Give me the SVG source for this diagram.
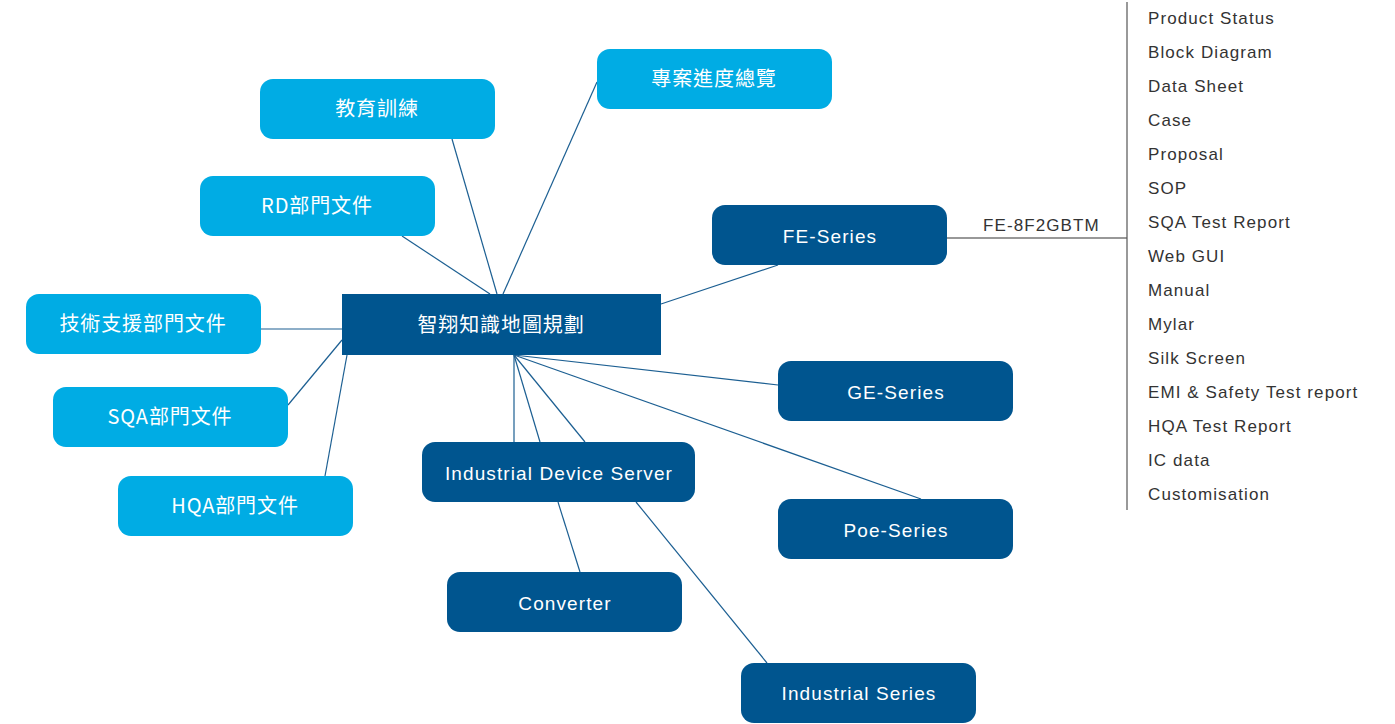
<svg xmlns="http://www.w3.org/2000/svg" width="1395" height="724" viewBox="0 0 1395 724">
<style>
.lb{fill:#00ace4}
.db{fill:#00558f}
.t{font-family:"Liberation Sans","Noto Sans CJK TC",sans-serif;font-size:19px;letter-spacing:1.1px;fill:#fff;text-anchor:middle}
.c{font-family:"Noto Sans CJK TC","Liberation Sans",sans-serif;font-size:20px;letter-spacing:0.9px;fill:#fff;text-anchor:middle}
.l{font-family:"Liberation Sans",sans-serif;font-size:17px;letter-spacing:1.1px;fill:#333}
.cn{stroke:#1c5f92;stroke-width:1.2;fill:none}
</style>
<rect width="1395" height="724" fill="#fff"/>
<g id="connectors" class="cn">
<line x1="452" y1="139" x2="497" y2="294"/>
<line x1="597" y1="82" x2="503" y2="294"/>
<line x1="402" y1="236" x2="490" y2="294"/>
<line x1="261" y1="329" x2="342" y2="329"/>
<line x1="288" y1="405" x2="342" y2="340"/>
<line x1="325" y1="476" x2="347" y2="355"/>
<line x1="661" y1="304" x2="778" y2="265"/>
<line x1="514" y1="355" x2="514" y2="442"/>
<line x1="514" y1="355" x2="540" y2="442"/>
<line x1="514" y1="355" x2="585" y2="442"/>
<line x1="514" y1="355" x2="778" y2="385"/>
<line x1="514" y1="355" x2="921" y2="499"/>
<line x1="558" y1="502" x2="580" y2="572"/>
<line x1="636" y1="502" x2="767" y2="663"/>
<line x1="947" y1="238" x2="1127" y2="238" stroke="#333"/>
<line x1="1127" y1="2" x2="1127" y2="510" stroke="#555"/>
</g>
<g id="center"><rect x="342" y="294" width="319" height="61" class="db"/><text x="501" y="332" class="c">智翔知識地圖規劃</text></g>
<g id="edu"><rect x="260" y="79" width="235" height="60" rx="13" class="lb"/><text x="377" y="116" class="c">教育訓練</text></g>
<g id="proj"><rect x="597" y="49" width="235" height="60" rx="13" class="lb"/><text x="714" y="86" class="c">專案進度總覽</text></g>
<g id="rd"><rect x="200" y="176" width="235" height="60" rx="13" class="lb"/><text x="317" y="213" class="c">RD部門文件</text></g>
<g id="tech"><rect x="26" y="294" width="235" height="60" rx="13" class="lb"/><text x="143" y="331" class="c">技術支援部門文件</text></g>
<g id="sqa"><rect x="53" y="387" width="235" height="60" rx="13" class="lb"/><text x="170" y="424" class="c">SQA部門文件</text></g>
<g id="hqa"><rect x="118" y="476" width="235" height="60" rx="13" class="lb"/><text x="235" y="513" class="c">HQA部門文件</text></g>
<g id="fe"><rect x="712" y="205" width="235" height="60" rx="13" class="db"/><text x="830" y="243" class="t">FE-Series</text></g>
<g id="ge"><rect x="778" y="361" width="235" height="60" rx="13" class="db"/><text x="896" y="399" class="t">GE-Series</text></g>
<g id="poe"><rect x="778" y="499" width="235" height="60" rx="13" class="db"/><text x="896" y="537" class="t">Poe-Series</text></g>
<g id="ids"><rect x="422" y="442" width="273" height="60" rx="13" class="db"/><text x="559" y="480" class="t">Industrial Device Server</text></g>
<g id="conv"><rect x="447" y="572" width="235" height="60" rx="13" class="db"/><text x="565" y="610" class="t">Converter</text></g>
<g id="ind"><rect x="741" y="663" width="235" height="60" rx="13" class="db"/><text x="859" y="700" class="t">Industrial Series</text></g>
<g id="fe-model"><text x="983" y="231" class="l">FE-8F2GBTM</text></g>
<g id="docs" class="l">
<text x="1148" y="24">Product Status</text>
<text x="1148" y="58">Block Diagram</text>
<text x="1148" y="92">Data Sheet</text>
<text x="1148" y="126">Case</text>
<text x="1148" y="160">Proposal</text>
<text x="1148" y="194">SOP</text>
<text x="1148" y="228">SQA Test Report</text>
<text x="1148" y="262">Web GUI</text>
<text x="1148" y="296">Manual</text>
<text x="1148" y="330">Mylar</text>
<text x="1148" y="364">Silk Screen</text>
<text x="1148" y="398">EMI &amp; Safety Test report</text>
<text x="1148" y="432">HQA Test Report</text>
<text x="1148" y="466">IC data</text>
<text x="1148" y="500">Customisation</text>
</g>
</svg>
